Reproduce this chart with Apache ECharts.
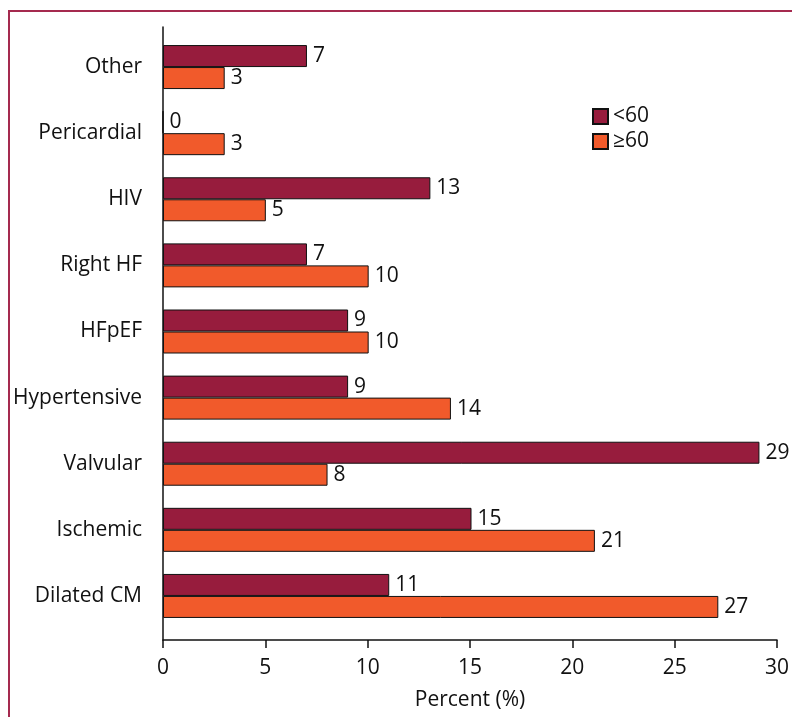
<!DOCTYPE html>
<html>
<head>
<meta charset="utf-8">
<script src="https://cdn.jsdelivr.net/npm/echarts@6/dist/echarts.min.js"></script>
<style>
  html, body { margin: 0; padding: 0; background: #fff; }
  #chart { position: absolute; left: 0; top: 0; width: 792px; height: 717px; }
  #frame { position: absolute; left: 8px; top: 10px; width: 800px; height: 720px;
           border-top: 2px solid #A52A4F; border-left: 2px solid #A52A4F; pointer-events: none; }
</style>
</head>
<body>
<div id="chart"></div>
<div id="frame"></div>
<script>
// Heart failure aetiology by age group (percent)
const categories = ['Other', 'Pericardial', 'HIV', 'Right HF', 'HFpEF', 'Hypertensive', 'Valvular', 'Ischemic', 'Dilated CM'];
const under60 = [7, 0, 13, 7, 9, 9, 29, 15, 11];
const over60 = [3, 3, 5, 10, 10, 14, 8, 21, 27];
const seriesNames = ['<60', '\u226560'];
const xTicks = [0, 5, 10, 15, 20, 25, 30];

const FONT = '"Open Sans", "Noto Sans", sans-serif';
const FS = 21;
const colors = ['#971C3D', '#F15A2B'];

const chart = echarts.init(document.getElementById('chart'), null, { renderer: 'canvas' });

const barLabel = {
  show: true,
  position: 'right',
  distance: 6,
  color: '#111',
  fontFamily: FONT,
  fontSize: FS,
  formatter: p => String(p.value)
};

chart.setOption({
  animation: false,
  backgroundColor: '#fff',
  textStyle: { fontFamily: FONT },
  legend: {
    orient: 'vertical',
    left: 592,
    top: 106,
    padding: 0,
    itemWidth: 15,
    itemHeight: 15,
    itemGap: 4,
    icon: 'rect',
    textStyle: { fontFamily: FONT, fontSize: FS, color: '#111' },
    data: seriesNames
  },
  grid: [
    // bars
    { left: 163, right: 12, top: 34, bottom: 88 },
    // frame axes
    { left: 163, right: 12, top: 27, bottom: 77 }
  ],
  xAxis: [
    { gridIndex: 0, type: 'value', min: xTicks[0], max: xTicks[xTicks.length - 1], interval: 5, show: false },
    {
      gridIndex: 1, type: 'value', min: xTicks[0], max: xTicks[xTicks.length - 1], interval: 5,
      name: 'Percent (%)', nameLocation: 'middle', nameGap: 50,
      nameTextStyle: { fontFamily: FONT, fontSize: FS, color: '#111' },
      axisLine: { show: true, lineStyle: { color: '#111', width: 1.5 } },
      axisTick: { show: true, length: 8, lineStyle: { color: '#111', width: 1.5 } },
      axisLabel: { fontFamily: FONT, fontSize: FS, color: '#111', margin: 18 },
      splitLine: { show: false }
    }
  ],
  yAxis: [
    {
      gridIndex: 0, type: 'category', inverse: true, data: categories,
      axisLine: { show: false },
      axisTick: { show: false },
      axisLabel: { fontFamily: FONT, fontSize: FS, color: '#111', margin: 21 }
    },
    {
      gridIndex: 1, type: 'category', data: [''],
      axisLine: { show: true, lineStyle: { color: '#111', width: 1.5 } },
      axisTick: { show: false },
      axisLabel: { show: false }
    }
  ],
  series: [
    {
      name: seriesNames[0], type: 'bar', xAxisIndex: 0, yAxisIndex: 0,
      data: under60, barWidth: 22, barGap: '0%',
      itemStyle: { color: colors[0], borderColor: '#111', borderWidth: 1 },
      label: barLabel
    },
    {
      name: seriesNames[1], type: 'bar', xAxisIndex: 0, yAxisIndex: 0,
      data: over60, barWidth: 22, barGap: '0%',
      itemStyle: { color: colors[1], borderColor: '#111', borderWidth: 1 },
      label: barLabel
    }
  ]
});
</script>
</body>
</html>
